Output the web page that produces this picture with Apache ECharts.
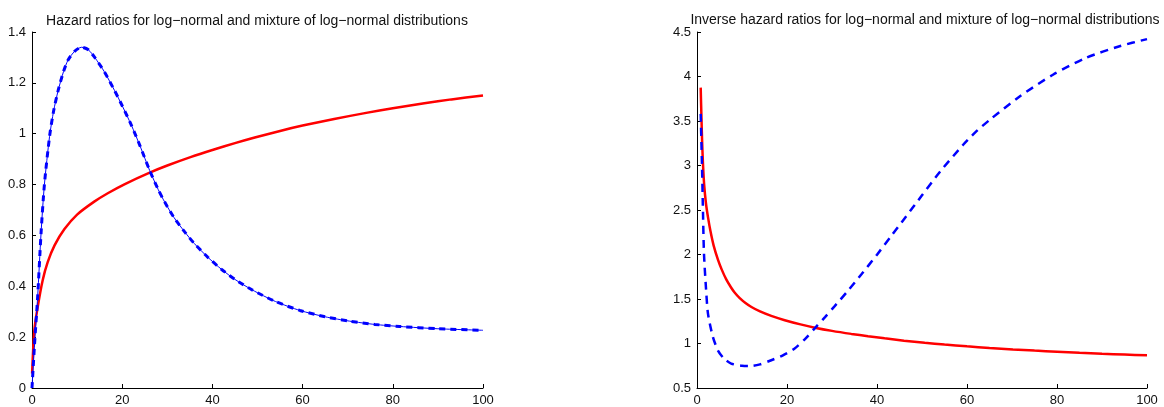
<!DOCTYPE html>
<html>
<head>
<meta charset="utf-8">
<script src="https://cdn.jsdelivr.net/npm/echarts@6/dist/echarts.min.js"></script>
<style>html,body{margin:0;padding:0;background:#fff}#c{width:1164px;height:407px}</style>
</head>
<body>
<div id="c"></div>
<script>
// Left panel: hazard ratios
const leftTitle = 'Hazard ratios for log\u2212normal and mixture of log\u2212normal distributions';
const leftLognormX = [0.02, 0.52, 1.26, 2.37, 3.48, 5, 7.2, 10, 13.8, 16.8, 20.6, 26.1, 30, 35.3, 40, 45, 49.4, 55, 60, 67, 74.1, 80, 87, 93, 100];
const leftLognormY = [0.057, 0.227, 0.318, 0.424, 0.495, 0.561, 0.625, 0.682, 0.733, 0.766, 0.802, 0.847, 0.875, 0.909, 0.936, 0.963, 0.985, 1.011, 1.032, 1.058, 1.082, 1.1, 1.12, 1.135, 1.15];
const leftMixX = [0, 0.52, 1.26, 2.0, 2.75, 3.9, 4.8, 5.8, 7, 8, 9.5, 11, 12.5, 13.9, 16, 18.3, 20, 22, 24, 26.1, 28, 29.4, 31.5, 33.9, 36, 39, 42, 45, 48.8, 54, 59.4, 65, 70.4, 76, 81.5, 90, 100];
const leftMixY = [0, 0.16, 0.36, 0.607, 0.8, 0.99, 1.09, 1.17, 1.245, 1.29, 1.325, 1.34, 1.33, 1.30, 1.245, 1.17, 1.11, 1.035, 0.95, 0.855, 0.78, 0.732, 0.67, 0.613, 0.568, 0.514, 0.467, 0.427, 0.386, 0.34, 0.305, 0.28, 0.263, 0.25, 0.242, 0.233, 0.227];
const leftYTicks = [0, 0.2, 0.4, 0.6, 0.8, 1, 1.2, 1.4];

// Right panel: inverse hazard ratios
const rightTitle = 'Inverse hazard ratios for log\u2212normal and mixture of log\u2212normal distributions';
const rightLognormX = [0.82, 1.0, 1.15, 1.33, 1.6, 2.0, 2.44, 3.0, 3.7, 4.67, 5.5, 6.5, 7.5, 8.4, 9.5, 10.7, 12.1, 14, 16.5, 19.5, 23, 26.2, 30, 34.3, 38, 41.7, 46, 50.6, 55, 60, 65, 70.2, 75, 80, 85, 90, 95, 100];
const rightLognormY = [3.875, 3.52, 3.25, 3.02, 2.78, 2.57, 2.42, 2.26, 2.1, 1.94, 1.83, 1.72, 1.635, 1.57, 1.51, 1.458, 1.41, 1.36, 1.31, 1.262, 1.215, 1.178, 1.142, 1.108, 1.082, 1.058, 1.032, 1.008, 0.988, 0.968, 0.95, 0.933, 0.92, 0.908, 0.896, 0.885, 0.876, 0.867];
const rightMixX = [0.82, 1.1, 1.3, 1.55, 2, 2.44, 3.5, 4.67, 6, 7.6, 10, 12.1, 14, 16.5, 19, 21.7, 24, 26.2, 28.5, 30.6, 33.5, 36.5, 40, 43.2, 46.5, 50, 54, 59.1, 62, 65.1, 71.7, 79.1, 86.5, 93.9, 100];
const rightMixY = [3.58, 3.02, 2.55, 2.01, 1.62, 1.336, 1.08, 0.92, 0.83, 0.774, 0.75, 0.747, 0.765, 0.812, 0.865, 0.945, 1.05, 1.172, 1.3, 1.42, 1.59, 1.775, 1.998, 2.21, 2.43, 2.665, 2.93, 3.23, 3.38, 3.515, 3.775, 4.02, 4.21, 4.34, 4.42];
const rightYTicks = [0.5, 1, 1.5, 2, 2.5, 3, 3.5, 4, 4.5];

const xTicks = [0, 20, 40, 60, 80, 100];

function pairs(xs, ys) { return xs.map((x, i) => [x, ys[i]]); }

const fontFam = '"Liberation Sans", Arial, Helvetica, sans-serif';

function xAxisCfg(grid) {
  return {
    type: 'value', gridIndex: grid, min: xTicks[0], max: xTicks[xTicks.length - 1], interval: 20,
    axisLine: { lineStyle: { color: '#000', width: 1 } },
    axisTick: { inside: true, length: 4, lineStyle: { color: '#000' } },
    axisLabel: { color: '#111', fontSize: 13, fontFamily: fontFam, margin: 6 },
    splitLine: { show: false }
  };
}
function yAxisCfg(grid, ticks, interval) {
  return {
    type: 'value', gridIndex: grid, min: ticks[0], max: ticks[ticks.length - 1], interval: interval,
    axisLine: { show: true, lineStyle: { color: '#000', width: 1 } },
    axisTick: { show: true, inside: true, length: 4, lineStyle: { color: '#000' } },
    axisLabel: { color: '#111', fontSize: 13, fontFamily: fontFam, margin: 6 },
    splitLine: { show: false }
  };
}

const chart = echarts.init(document.getElementById('c'), null, { renderer: 'canvas' });
chart.setOption({
  animation: false,
  backgroundColor: '#fff',
  title: [
    { text: leftTitle, left: 252, top: 9, textAlign: 'center',
      textStyle: { fontSize: 14, fontWeight: 'normal', color: '#111', fontFamily: fontFam } },
    { text: rightTitle, left: 920, top: 8, textAlign: 'center',
      textStyle: { fontSize: 14, fontWeight: 'normal', color: '#111', fontFamily: fontFam } }
  ],
  grid: [
    { left: 32, right: 681, top: 32, bottom: 19 },
    { left: 697, right: 17, top: 32, bottom: 19 }
  ],
  xAxis: [xAxisCfg(0), xAxisCfg(1)],
  yAxis: [yAxisCfg(0, leftYTicks, 0.2), yAxisCfg(1, rightYTicks, 0.5)],
  series: [
    { type: 'line', xAxisIndex: 0, yAxisIndex: 0, data: pairs(leftLognormX, leftLognormY),
      smooth: 0.25, showSymbol: false, lineStyle: { color: '#ff0000', width: 2.5 } },
    { type: 'line', xAxisIndex: 0, yAxisIndex: 0, data: pairs(leftMixX, leftMixY),
      smooth: 0.25, showSymbol: false, lineStyle: { color: '#0000ff', width: 1 } },
    { type: 'line', xAxisIndex: 0, yAxisIndex: 0, data: pairs(leftMixX, leftMixY),
      smooth: 0.25, showSymbol: false, lineStyle: { color: '#0000ff', width: 3, type: [6, 5] } },
    { type: 'line', xAxisIndex: 1, yAxisIndex: 1, data: pairs(rightLognormX, rightLognormY),
      smooth: 0.25, showSymbol: false, lineStyle: { color: '#ff0000', width: 2.5 } },
    { type: 'line', xAxisIndex: 1, yAxisIndex: 1, data: pairs(rightMixX, rightMixY),
      smooth: 0.25, showSymbol: false, lineStyle: { color: '#0000ff', width: 2.5, type: [8, 6] } }
  ]
});
</script>
</body>
</html>
